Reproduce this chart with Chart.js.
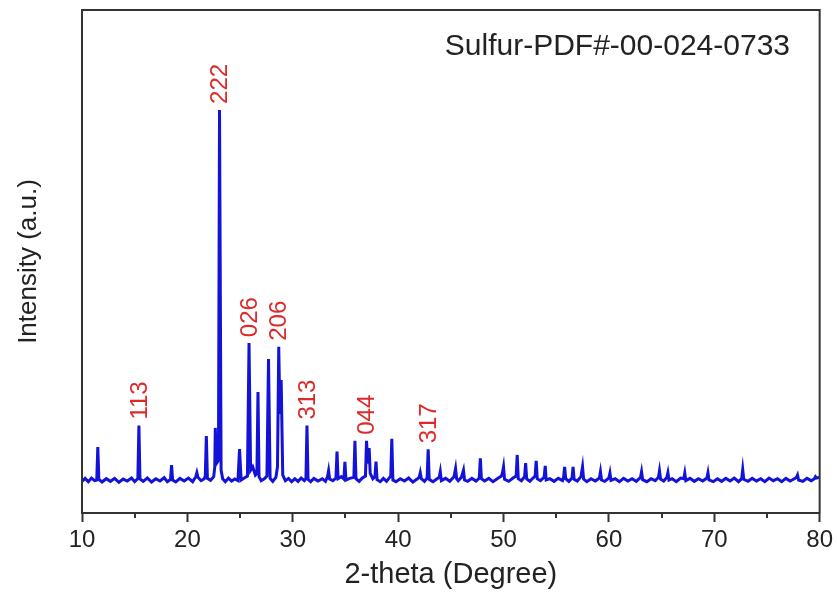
<!DOCTYPE html>
<html>
<head>
<meta charset="utf-8">
<title>Sulfur XRD</title>
<script src="https://cdn.jsdelivr.net/npm/chart.js@4/dist/chart.umd.min.js"></script>
<style>
    body { margin: 0; background: #fff; }
    canvas { display: block; }
</style>
</head>
<body>
<canvas id="xrd-chart" width="837" height="592"></canvas>
<script>
// scan, one line per region of the pattern
const twoTheta = [
    10.0, 10.3, 10.6, 10.9, 11.2, 11.4, 11.5, 11.6,
    11.9, 12.3, 12.7, 13.1, 13.5, 13.9, 14.3, 14.7, 15.0, 15.3, 15.4, 15.5,
    15.8, 16.2, 16.6, 17.0, 17.4, 17.8, 18.1, 18.4, 18.5, 18.6,
    18.9, 19.3, 19.7, 20.1, 20.5, 20.8, 20.9, 21.0, 21.3, 21.6, 21.7, 21.8, 21.9, 22.2, 22.5, 22.6, 22.65, 22.75, 22.95, 23.05, 23.2,
    23.35, 23.6, 23.9, 24.2, 24.5, 24.8, 24.95, 25.1,
    25.4, 25.7, 25.85, 26.0, 26.2, 26.45, 26.6, 26.7, 26.8, 27.0, 27.3, 27.55, 27.7, 27.85, 28.1, 28.4, 28.55, 28.67, 28.78, 28.9, 29.05, 29.3,
    29.6, 29.9, 30.2, 30.5, 30.8, 31.1, 31.25, 31.35, 31.45,
    31.7, 32.0, 32.4, 32.8, 33.1, 33.3, 33.4, 33.5, 33.8, 34.1, 34.2, 34.3, 34.6, 34.85, 34.95, 35.05, 35.4, 35.8, 35.9, 36.0, 36.3, 36.6, 36.9, 37.0, 37.12, 37.25, 37.35, 37.6, 37.8, 37.9, 38.0, 38.3, 38.6, 38.9, 39.2, 39.3, 39.4, 39.5,
    39.8, 40.2, 40.6, 41.0, 41.4, 41.8, 42.0, 42.1, 42.2, 42.5, 42.75, 42.85, 42.95, 43.3, 43.7, 43.9, 44.0, 44.1, 44.5, 44.9, 45.3, 45.45, 45.55, 45.7, 46.0, 46.2, 46.3, 46.6, 47.0, 47.4,
    47.7, 47.8, 47.9, 48.2, 48.6, 49.0, 49.4, 49.8, 49.9, 50.0, 50.1, 50.5, 50.9, 51.2, 51.3, 51.4, 51.7, 52.0, 52.1, 52.2, 52.5, 52.8, 53.0, 53.1, 53.2, 53.5, 53.85, 53.96, 54.05, 54.4, 54.8, 55.2,
    55.6, 55.7, 55.8, 55.9, 56.2, 56.5, 56.6, 56.7, 57.0, 57.35, 57.5, 57.6, 57.9, 58.3, 58.7, 59.1, 59.2, 59.3, 59.6, 60.0, 60.1, 60.2, 60.6,
    61.0, 61.4, 61.8, 62.2, 62.6, 63.0, 63.1, 63.2, 63.6, 64.0, 64.4, 64.7, 64.8, 64.9, 65.2, 65.5, 65.6, 65.7, 66.0, 66.4, 66.8, 67.1, 67.2, 67.3, 67.7, 68.1, 68.5, 68.9, 69.3, 69.4, 69.5, 69.9,
    70.3, 70.7, 71.1, 71.5, 71.9, 72.3, 72.6, 72.7, 72.8, 73.2, 73.6, 74.0, 74.4, 74.8, 75.2, 75.6, 76.0, 76.4, 76.8, 77.2, 77.6, 77.8, 77.9, 78.0, 78.4, 78.8, 79.2, 79.5, 79.6, 79.7, 80.0
];
const intensity = [
    96, 105, 95, 106, 98, 100, 200, 102,
    94, 104, 96, 105, 93, 103, 97, 106, 95, 104, 265, 103,
    96, 106, 94, 104, 97, 107, 95, 102, 145, 100,
    94, 105, 97, 106, 95, 110, 122, 108, 98, 104, 112, 233, 105, 99, 110, 140, 258, 150, 160, 1222, 130,
    104, 95, 106, 97, 103, 98, 194, 100,
    106, 112, 515, 130, 140, 115, 120, 367, 110, 98, 104, 112, 467, 105, 96, 108, 140, 504, 300, 403, 115, 98,
    105, 95, 104, 96, 106, 98, 104, 265, 102,
    95, 105, 97, 104, 96, 110, 128, 103, 98, 106, 186, 104, 110, 103, 155, 100, 105, 108, 219, 104, 96, 106, 112, 219, 150, 197, 120, 104, 110, 156, 101, 95, 105, 96, 108, 112, 225, 100,
    95, 104, 97, 106, 94, 103, 108, 122, 104, 96, 106, 193, 102, 95, 104, 108, 125, 98, 105, 96, 110, 135, 104, 98, 108, 130, 100, 96, 105, 97,
    106, 166, 104, 97, 105, 95, 104, 112, 122, 140, 102, 96, 106, 112, 176, 104, 98, 110, 151, 103, 96, 106, 112, 158, 104, 98, 108, 143, 100, 104, 96, 105,
    98, 108, 140, 104, 96, 106, 140, 102, 97, 110, 140, 103, 95, 104, 97, 106, 125, 100, 96, 106, 121, 99, 104,
    95, 105, 97, 104, 96, 108, 125, 101, 95, 104, 98, 108, 128, 103, 97, 108, 122, 100, 104, 95, 106, 104, 121, 98, 105, 96, 104, 97, 106, 122, 100, 95,
    104, 96, 105, 97, 106, 95, 104, 132, 102, 96, 105, 97, 104, 95, 106, 98, 104, 95, 105, 97, 104, 108, 115, 100, 96, 105, 98, 104, 110, 106, 108
];

// indexed peaks
const hklLabels = ['113', '222', '026', '206', '313', '044', '317'];
const hklTheta = [15.4, 23.05, 25.85, 28.67, 31.35, 37.0, 42.85];
const hklHeight = [265, 1222, 515, 504, 265, 219, 193];

const xTicks = [10, 20, 30, 40, 50, 60, 70, 80];
const xMinorTicks = [15, 25, 35, 45, 55, 65, 75];

const phaseName = 'Sulfur-PDF#-00-024-0733';

const FONT = '"Liberation Sans", Arial, sans-serif';
const AXIS_COLOR = '#333333';

// frame round the plot plus the short minor ticks
const framePlugin = {
    id: 'frame',
    afterDraw(chart) {
        const { ctx, chartArea: a, scales } = chart;
        ctx.save();
        ctx.strokeStyle = AXIS_COLOR;
        ctx.lineWidth = 2;
        ctx.strokeRect(a.left, a.top, a.right - a.left, a.bottom - a.top);
        xMinorTicks.forEach(t => {
            const px = Math.round(scales.x.getPixelForValue(t));
            ctx.beginPath();
            ctx.moveTo(px, a.bottom);
            ctx.lineTo(px, a.bottom + 5);
            ctx.stroke();
        });
        ctx.restore();
    }
};

// hkl labels above peaks and the phase name
const labelPlugin = {
    id: 'hklLabels',
    afterDatasetsDraw(chart) {
        const { ctx, scales } = chart;
        ctx.save();
        ctx.fillStyle = '#dc2a2a';
        ctx.font = `24px ${FONT}`;
        ctx.textAlign = 'left';
        ctx.textBaseline = 'middle';
        hklLabels.forEach((text, i) => {
            const px = scales.x.getPixelForValue(hklTheta[i]);
            const py = scales.y.getPixelForValue(hklHeight[i]);
            ctx.save();
            ctx.translate(px + 1, py - 6);
            ctx.rotate(-Math.PI / 2);
            ctx.fillText(text, 0, 0);
            ctx.restore();
        });

        ctx.fillStyle = '#222222';
        ctx.font = `30px ${FONT}`;
        ctx.textAlign = 'right';
        ctx.textBaseline = 'alphabetic';
        ctx.fillText(phaseName, 790, 55);
        ctx.restore();
    }
};

new Chart(document.getElementById('xrd-chart'), {
    type: 'line',
    data: {
        datasets: [{
            data: twoTheta.map((t, i) => ({ x: t, y: intensity[i] })),
            borderColor: '#1212d8',
            borderWidth: 3,
            pointRadius: 0,
            tension: 0,
            fill: false
        }]
    },
    options: {
        responsive: false,
        animation: false,
        devicePixelRatio: 1,
        layout: { padding: { top: 10, right: 15, left: 0, bottom: 0 } },
        plugins: {
            legend: { display: false },
            tooltip: { enabled: false }
        },
        scales: {
            x: {
                type: 'linear',
                min: 10,
                max: 80,
                afterBuildTicks: scale => { scale.ticks = xTicks.map(v => ({ value: v })); },
                afterFit: scale => { scale.height = 79; },
                grid: {
                    drawOnChartArea: false,
                    drawTicks: true,
                    tickLength: 9,
                    tickWidth: 2,
                    tickColor: AXIS_COLOR
                },
                border: { display: true, color: AXIS_COLOR, width: 2 },
                ticks: {
                    color: '#222222',
                    font: { family: FONT, size: 24 },
                    padding: 4,
                    maxRotation: 0
                },
                title: {
                    display: true,
                    text: '2-theta (Degree)',
                    color: '#222222',
                    font: { family: FONT, size: 29 },
                    padding: { top: 3, bottom: 0 }
                }
            },
            y: {
                min: 0,
                max: 1525,
                afterFit: scale => { scale.width = 82; },
                grid: { display: false },
                border: { display: true, color: AXIS_COLOR, width: 2 },
                ticks: { display: false },
                title: {
                    display: true,
                    text: 'Intensity (a.u.)',
                    color: '#222222',
                    font: { family: FONT, size: 26 },
                    padding: { top: 13, bottom: 0 }
                }
            }
        }
    },
    plugins: [framePlugin, labelPlugin]
});
</script>
</body>
</html>
